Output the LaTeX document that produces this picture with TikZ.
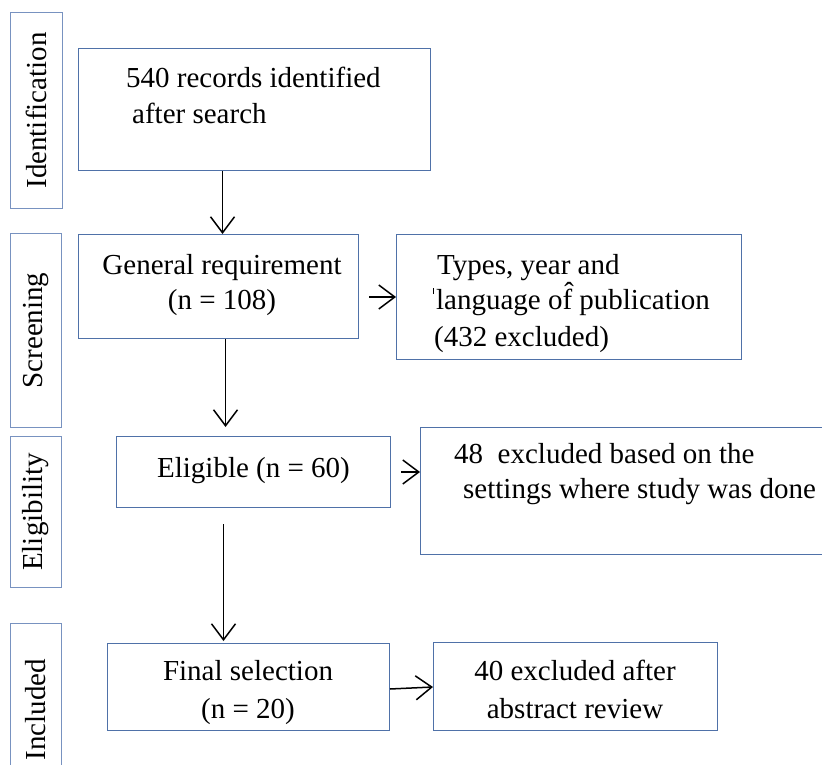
\documentclass[tikz,border=0pt]{standalone}
\usepackage{fontspec}
\setmainfont{Liberation Serif}
\usetikzlibrary{arrows.meta}
\definecolor{boxblue}{RGB}{79,113,168}
\definecolor{sideblue}{RGB}{120,146,192}
\tikzset{
  box/.style={draw=boxblue, line width=1pt, rectangle, inner sep=0pt, anchor=north west},
  sidebox/.style={draw=sideblue, line width=1pt, rectangle, inner sep=0pt, anchor=north west},
  txt/.style={inner sep=0pt, font=\fontsize{29}{36}\selectfont},
  sidetxt/.style={inner sep=0pt, font=\fontsize{29}{36}\selectfont, rotate=90},
  arr/.style={line width=1.5pt, -{Straight Barb[length=16pt,width=24pt,line width=1.5pt]}}
}
\begin{document}
\begin{tikzpicture}[x=1pt,y=-1pt]
\useasboundingbox (0,0) rectangle (822,765);
% side boxes
\node[sidebox, minimum width=52, minimum height=196] (sId) at (10,12) {};
\node[sidetxt] at (sId.center) {Identification};
\node[sidebox, minimum width=51, minimum height=194] (sSc) at (10,233) {};
\node[sidetxt] at (sSc.center) {Screening};
\node[sidebox, minimum width=51, minimum height=151] (sEl) at (10,436) {};
\node[sidetxt] at (sEl.center) {Eligibility};
\node[sidebox, minimum width=51, minimum height=160] (sIn) at (10,623) {};
\node[sidetxt] at ([yshift=-6pt]sIn.center) {Included};
% main boxes
\node[box, minimum width=352, minimum height=122] (b1) at (78,48) {};
\node[txt, anchor=mid west] (t1a) at (126,85) {540 records identified};
\node[txt, anchor=mid west] (t1b) at (132,121) {after search};

\node[box, minimum width=280, minimum height=104] (b2) at (78,234) {};
\node[txt, anchor=mid] (t2a) at (222,272) {General requirement};
\node[txt, anchor=mid] (t2b) at (222,307) {(n = 108)};

\node[box, minimum width=345, minimum height=125] (b3) at (396,234) {};
\node[txt, anchor=mid west] (t3a) at (437,272) {Types, year and};
\node[txt, anchor=mid west] (t3b) at (433,307) {\rule[0.52em]{0.9pt}{0.2em}\hspace{2pt}language o\^{f} publication};
\node[txt, anchor=mid west] (t3c) at (434,344) {(432 excluded)};

\node[box, minimum width=274, minimum height=71] (b4) at (116,436) {};
\node[txt, anchor=mid] (t4) at ([yshift=-3pt]b4.center) {Eligible (n = 60)};

\node[box, minimum width=420, minimum height=127] (b5) at (420,427) {};
\node[txt, anchor=mid west] (t5a) at (454,461) {48\ \ excluded based on the};
\node[txt, anchor=mid west] (t5b) at (463,496) {settings where study was done};

\node[box, minimum width=282, minimum height=87] (b6) at (107,643) {};
\node[txt, anchor=mid] (t6a) at (248,678) {Final selection};
\node[txt, anchor=mid] (t6b) at (248,716) {(n = 20)};

\node[box, minimum width=284, minimum height=88] (b7) at (433,642) {};
\node[txt, anchor=mid] (t7a) at (575,678) {40 excluded after};
\node[txt, anchor=mid] (t7b) at (575,716) {abstract review};

% connectors
\draw[arr] ([xshift=4pt]b2.north |- b1.south) -- ([xshift=4pt]b2.north);
\draw[arr] ([xshift=10pt]b2.east |- b3.west) -- (b3.west);
\draw[arr] ([xshift=7pt]b2.south) -- ([xshift=7pt,yshift=9pt]b2.south |- b4.north);
\draw[arr] ([xshift=10pt]b4.east) -- (b4.east -| b5.west);
\draw[arr] ([xshift=-25pt,yshift=-16pt]b4.south -| b6.north) -- ([xshift=-25pt,yshift=2pt]b6.north);
\draw[arr] ([yshift=-2pt]b6.east) -- (b6.east -| b7.west);
\end{tikzpicture}
\end{document}
